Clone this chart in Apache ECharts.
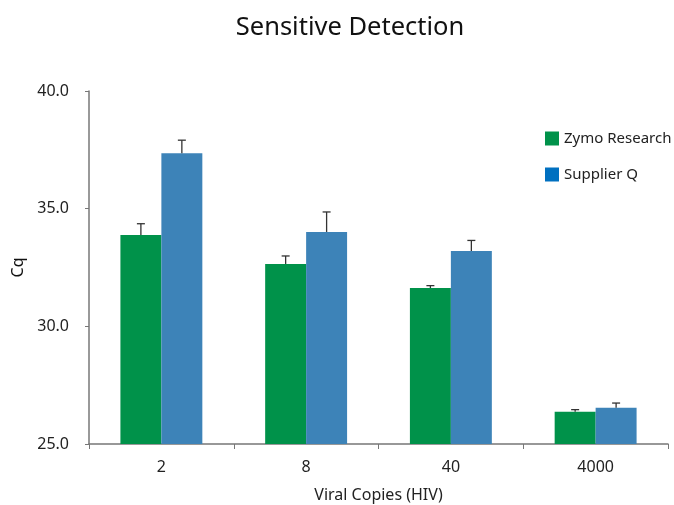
<!DOCTYPE html>
<html><head><meta charset="utf-8">
<script src="https://cdn.jsdelivr.net/npm/echarts@6/dist/echarts.min.js"></script>
<style>html,body{margin:0;padding:0;background:#fff}#c{width:674px;height:505px}</style>
</head><body><div id="c"></div>
<script>
const categories = ['2', '8', '40', '4000'];
const zymo = [33.88, 32.65, 31.63, 26.37];
const zymoErr = [0.48, 0.34, 0.10, 0.09];
const supplierQ = [37.36, 34.01, 33.20, 26.54];
const supplierQErr = [0.55, 0.85, 0.45, 0.20];
const yTicks = [25, 30, 35, 40];

const font = '"Noto Sans", sans-serif';
const chart = echarts.init(document.getElementById('c'));

function errSeries(vals, errs, idx) {
  return {
    type: 'custom',
    name: 'err' + idx,
    z: 10,
    renderItem: function (params, api) {
      const ci = api.value(0);
      const v = api.value(1);
      const e = api.value(2);
      const base = api.coord([ci, v]);
      const top = api.coord([ci, v + e]);
      const bw = api.size([1, 0])[0];
      const barW = bw * 0.283;
      const x = base[0] + (idx === 0 ? -barW / 2 : barW / 2);
      const cap = 4;
      const st = {stroke: '#333', lineWidth: 1.3};
      return {
        type: 'group',
        children: [
          {type: 'line', shape: {x1: x, y1: base[1], x2: x, y2: top[1]}, style: st},
          {type: 'line', shape: {x1: x - cap, y1: top[1], x2: x + cap, y2: top[1]}, style: st}
        ]
      };
    },
    data: vals.map((v, i) => [i, v, errs[i]])
  };
}

chart.setOption({
  animation: false,
  title: {
    text: 'Sensitive Detection', left: 345, textAlign: 'center', top: 10,
    textStyle: {fontFamily: font, fontSize: 25.5, fontWeight: 'normal', color: '#111'}
  },
  legend: {
    orient: 'vertical', left: 540, top: 126, itemWidth: 14, itemHeight: 14, itemGap: 21,
    icon: 'rect',
    textStyle: {fontFamily: font, fontSize: 15, color: '#222'},
    data: [
      {name: 'Zymo Research', itemStyle: {color: '#00924A'}},
      {name: 'Supplier Q', itemStyle: {color: '#0070C0'}}
    ]
  },
  grid: {left: 89, right: 6, top: 91, bottom: 61, containLabel: false, outerBoundsMode: 'none'},
  xAxis: {
    type: 'category', data: categories,
    name: 'Viral Copies (HIV)', nameLocation: 'middle', nameGap: 43,
    nameTextStyle: {fontFamily: font, fontSize: 16, color: '#222'},
    axisLine: {lineStyle: {color: '#777', width: 1.5}},
    axisTick: {show: true, length: 5, lineStyle: {color: '#777'}},
    axisLabel: {fontFamily: font, fontSize: 16, color: '#222', margin: 15}
  },
  yAxis: {
    type: 'value', min: 25, max: 40, interval: 5,
    name: 'Cq', nameLocation: 'middle', nameGap: 50,
    nameTextStyle: {fontFamily: font, fontSize: 16, color: '#111'},
    axisLine: {show: true, lineStyle: {color: '#777', width: 1.5}},
    axisTick: {show: true, length: 4, lineStyle: {color: '#777'}},
    splitLine: {show: false},
    axisLabel: {fontFamily: font, fontSize: 16, color: '#222', margin: 20,
      formatter: v => yTicks.includes(v) ? v.toFixed(1) : ''}
  },
  series: [
    {name: 'Zymo Research', type: 'bar', data: zymo, barWidth: '28.3%', barGap: '0%',
      itemStyle: {color: '#00924A'}},
    {name: 'Supplier Q', type: 'bar', data: supplierQ, barWidth: '28.3%', barGap: '0%',
      itemStyle: {color: '#3D83B8'}},
    errSeries(zymo, zymoErr, 0),
    errSeries(supplierQ, supplierQErr, 1)
  ]
});
</script></body></html>
